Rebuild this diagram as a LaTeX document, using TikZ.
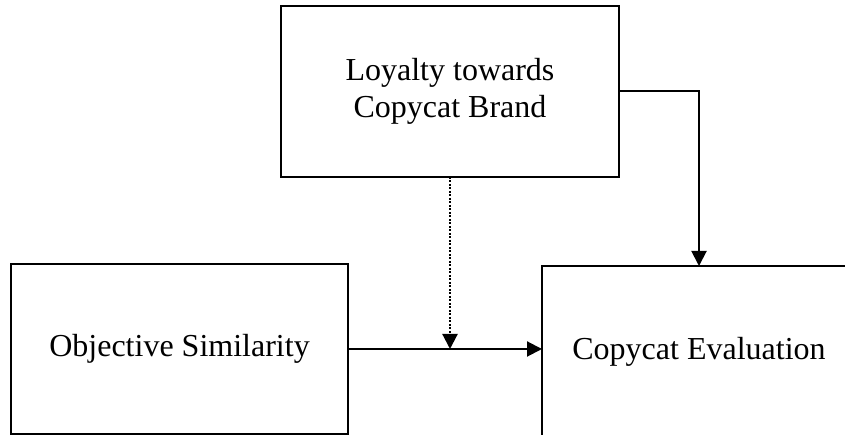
\documentclass[tikz,border=0pt]{standalone}
\usepackage{fontspec}
\setmainfont{Liberation Serif}
\usetikzlibrary{arrows.meta}
\begin{document}
\begin{tikzpicture}[x=1pt,y=1pt,
  box/.style={draw=black, line width=1.7pt, rectangle, inner sep=0pt, outer sep=0pt,
    align=center, font=\fontsize{32}{37}\selectfont},
  conn/.style={line width=2pt, -{Triangle[length=15pt,width=15pt]}},
  dotconn/.style={line width=2.2pt, dash pattern=on 2pt off 1.5pt, -{Triangle[length=15pt,width=15pt]}}]
\useasboundingbox (0,0) rectangle (845,435);
\node[box, minimum width=338pt, minimum height=171pt] (T) at (450,343.5) {Loyalty towards\\Copycat Brand};
\node[box, minimum width=337pt, minimum height=170pt] (L) at (179.5,86) {Objective Similarity};
\node[box, minimum width=314pt, minimum height=171pt] (R) at (699,83.5) {Copycat Evaluation};
\coordinate (M) at (T.south |- L.east);
\draw[conn] (L.east) -- (L.east -| R.west);
\draw[conn] (T.east) -| (R.north);
\draw[dotconn] (T.south) -- (M);
\end{tikzpicture}
\end{document}
